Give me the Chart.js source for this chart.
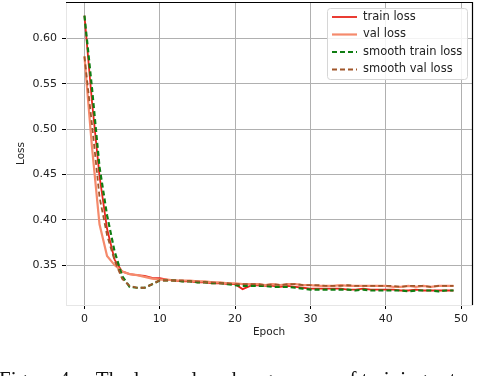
<!DOCTYPE html>
<html>
<head>
<meta charset="utf-8">
<script src="https://cdn.jsdelivr.net/npm/chart.js@4.4.0/dist/chart.umd.min.js"></script>
<style>
html,body{margin:0;padding:0;background:#fff;}
#wrap{width:480px;height:376px;position:relative;}
</style>
</head>
<body>
<div id="wrap"><canvas id="c" width="480" height="376"></canvas></div>
<script>
const epochs = Array.from({length: 50}, (_, i) => i);
const trainLoss = [0.625,0.530,0.448,0.390,0.356,0.343,0.340,0.339,0.338,0.336,
  0.3355,0.334,0.333,0.332,0.332,0.331,0.331,0.330,0.330,0.329,
  0.329,0.3235,0.327,0.328,0.327,0.327,0.326,0.327,0.326,0.325,
  0.324,0.324,0.324,0.324,0.324,0.323,0.323,0.324,0.323,0.323,
  0.323,0.323,0.322,0.322,0.323,0.322,0.322,0.322,0.322,0.322];
const valLoss = [0.580,0.480,0.395,0.360,0.350,0.343,0.340,0.339,0.337,0.335,
  0.334,0.334,0.333,0.333,0.333,0.332,0.332,0.331,0.331,0.330,
  0.330,0.329,0.329,0.329,0.328,0.329,0.328,0.329,0.329,0.328,
  0.328,0.327,0.327,0.327,0.328,0.327,0.327,0.327,0.327,0.327,
  0.327,0.326,0.326,0.327,0.326,0.327,0.326,0.327,0.327,0.327];
const smoothTrain = [0.625,0.545,0.458,0.405,0.365,0.338,0.326,0.325,0.325,0.329,
  0.333,0.333,0.333,0.332,0.332,0.331,0.331,0.330,0.330,0.329,
  0.328,0.327,0.327,0.327,0.327,0.326,0.326,0.326,0.325,0.324,
  0.323,0.323,0.323,0.323,0.323,0.323,0.322,0.323,0.322,0.322,
  0.322,0.322,0.322,0.321,0.322,0.322,0.322,0.321,0.322,0.322];
const smoothVal = [0.580,0.505,0.425,0.383,0.355,0.335,0.327,0.325,0.325,0.329,
  0.333,0.333,0.333,0.333,0.332,0.332,0.331,0.331,0.330,0.330,
  0.329,0.329,0.329,0.329,0.328,0.329,0.328,0.329,0.329,0.328,
  0.328,0.328,0.327,0.327,0.327,0.328,0.327,0.327,0.327,0.327,
  0.327,0.327,0.326,0.327,0.327,0.327,0.326,0.327,0.327,0.327];
const xTicks = [0,10,20,30,40,50];
const yTicks = [0.35,0.40,0.45,0.50,0.55,0.60];
const seriesNames = ['train loss','val loss','smooth train loss','smooth val loss'];
const caption = 'Figure 4\u2003 The loss value change curve of training set';

const FONT = 'DejaVu Sans';
const toXY = arr => arr.map((v, i) => ({x: epochs[i], y: v}));

const framePlugin = {
  id: 'frame',
  afterDatasetsDraw(chart) {
    const {ctx, chartArea: a} = chart;
    ctx.save();
    ctx.strokeStyle = '#000';
    ctx.lineWidth = 1.2;
    ctx.beginPath();
    ctx.moveTo(a.left, a.top + 0.5);
    ctx.lineTo(a.right + 0.5, a.top + 0.5);
    ctx.lineTo(a.right + 0.5, a.bottom);
    ctx.stroke();
    ctx.restore();
  },
  afterDraw(chart) {
    const {ctx} = chart;
    const bx = 327, by = 8, bw = 140, bh = 71;
    ctx.save();
    ctx.fillStyle = 'rgba(255,255,255,0.85)';
    ctx.strokeStyle = '#d6d6d6';
    ctx.lineWidth = 1;
    ctx.beginPath();
    ctx.roundRect(bx + 0.5, by + 0.5, bw, bh, 3);
    ctx.fill();
    ctx.stroke();
    ctx.font = '11.5px "' + FONT + '"';
    ctx.textBaseline = 'middle';
    chart.data.datasets.forEach((ds, i) => {
      const y = by + 9 + i * 17.5;
      ctx.strokeStyle = ds.borderColor;
      ctx.lineWidth = ds.borderWidth;
      ctx.setLineDash(ds.borderDash || []);
      ctx.beginPath();
      ctx.moveTo(332, y);
      ctx.lineTo(357, y);
      ctx.stroke();
      ctx.setLineDash([]);
      ctx.fillStyle = '#222';
      ctx.fillText(ds.label, 363, y);
    });
    ctx.font = '21px "Liberation Serif"';
    ctx.textBaseline = 'alphabetic';
    ctx.fillStyle = '#111';
    ctx.fillText(caption, -1, 386);
    ctx.restore();
  }
};

new Chart(document.getElementById('c'), {
  type: 'line',
  data: {
    datasets: [
      {label: seriesNames[0], data: toXY(trainLoss), borderColor: '#e8261c', borderWidth: 1.8, order: 4},
      {label: seriesNames[1], data: toXY(valLoss), borderColor: '#f58a6c', borderWidth: 2.2, order: 3},
      {label: seriesNames[2], data: toXY(smoothTrain), borderColor: '#0f7d12', borderWidth: 2.2, borderDash: [5, 3], order: 2},
      {label: seriesNames[3], data: toXY(smoothVal), borderColor: '#a0562a', borderWidth: 1.8, borderDash: [5, 3], order: 1}
    ]
  },
  options: {
    responsive: false,
    animation: false,
    devicePixelRatio: 1,
    elements: {point: {radius: 0}, line: {tension: 0, fill: false}},
    layout: {padding: {left: 0, top: 2, right: 8, bottom: 30}},
    plugins: {legend: {display: false}, tooltip: {enabled: false}},
    scales: {
      x: {
        type: 'linear',
        min: -2.45, max: 51.45,
        afterBuildTicks: s => { s.ticks = xTicks.map(v => ({value: v})); },
        afterFit: s => { s.height = 41; s.paddingLeft = 0; s.paddingRight = 0; },
        grid: {color: '#b0b0b0', lineWidth: 1, tickColor: '#000', tickLength: 4, drawOnChartArea: true},
        border: {color: '#e6e6e6', width: 1},
        ticks: {font: {family: FONT, size: 11}, color: '#222', padding: 4, maxRotation: 0,
          callback: v => String(v)},
        title: {display: true, text: 'Epoch', font: {family: FONT, size: 10.5}, color: '#222', padding: {top: 0, bottom: 7}}
      },
      y: {
        type: 'linear',
        min: 0.306, max: 0.640,
        afterBuildTicks: s => { s.ticks = yTicks.map(v => ({value: v})); },
        afterFit: s => { s.width = 66; s.paddingTop = 0; s.paddingBottom = 0; },
        grid: {color: '#b0b0b0', lineWidth: 1, tickColor: '#000', tickLength: 4},
        border: {color: '#e6e6e6', width: 1},
        ticks: {font: {family: FONT, size: 11}, color: '#222', padding: 5,
          callback: v => Number(v).toFixed(2)},
        title: {display: true, text: 'Loss', font: {family: FONT, size: 10.5}, color: '#222', padding: {top: 15, bottom: 0}}
      }
    }
  },
  plugins: [framePlugin]
});
</script>
</body>
</html>
